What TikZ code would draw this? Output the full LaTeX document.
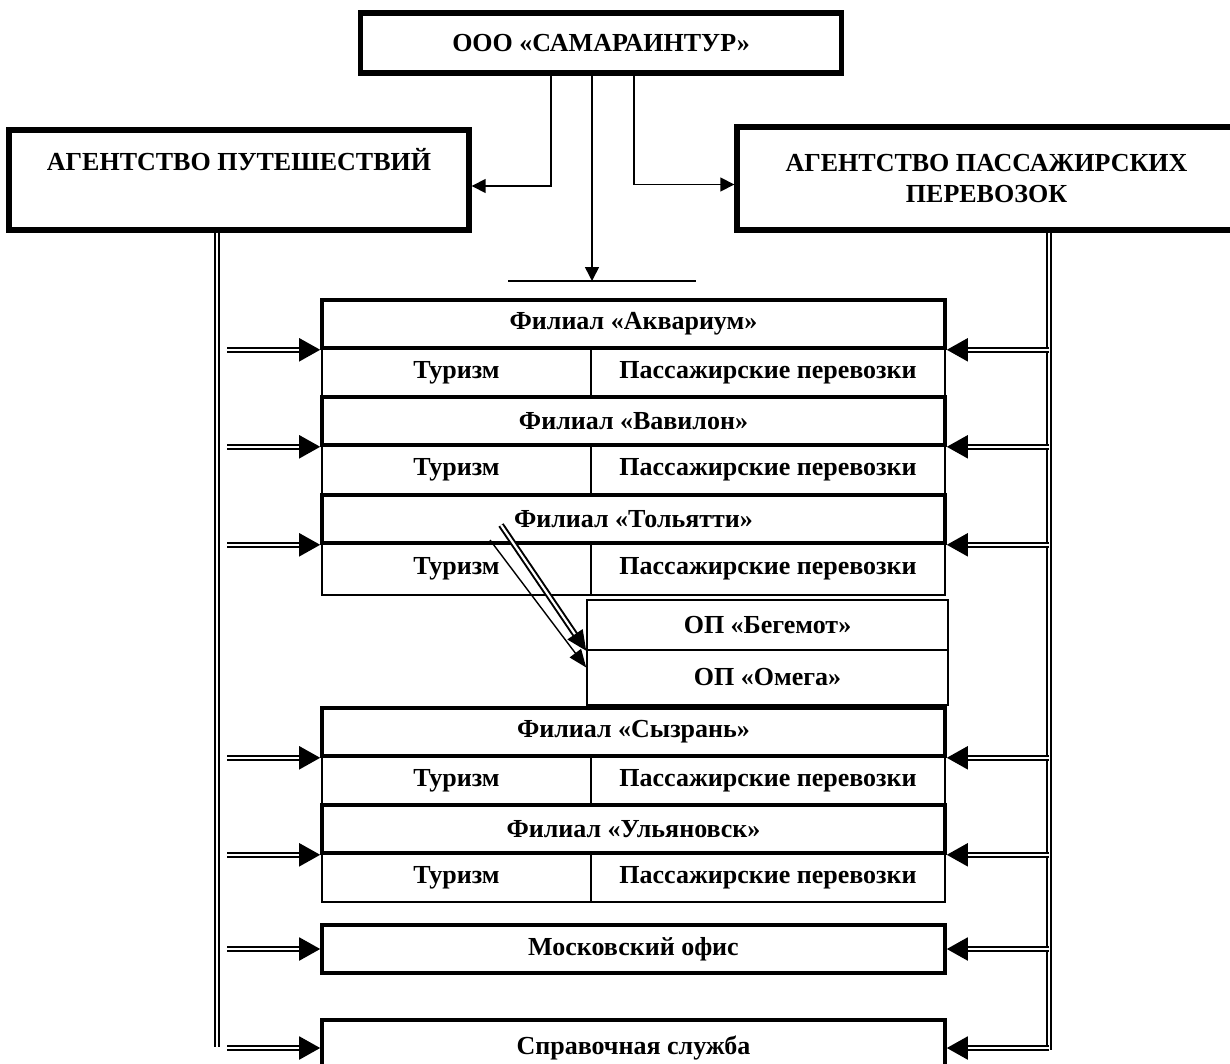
\documentclass[tikz,border=0pt]{standalone}
\usepackage{fontspec}
\setmainfont{Liberation Serif}
\usetikzlibrary{arrows.meta}

\tikzset{
  headbox/.style={draw, line width=2.7pt, inner sep=0pt, align=center},
  filbox/.style={draw, line width=1.8pt, minimum width=311.5pt, minimum height=24pt, inner sep=0pt},
  cellL/.style={draw, line width=0.8pt, minimum width=134.5pt, minimum height=24.5pt, inner sep=0pt},
  cellR/.style={draw, line width=0.8pt, minimum width=177pt, minimum height=24.5pt, inner sep=0pt},
  opbox/.style={draw, line width=0.8pt, minimum width=180.5pt, inner sep=0pt},
  link/.style={line width=0.8pt, -{Triangle[length=7pt,width=7pt]}},
  dbl/.style={double, line width=1pt, double distance=1.1pt},
  dblarrow/.style={dbl, -{Triangle[length=10.5pt,width=11.5pt]}},
}

\begin{document}
\begin{tikzpicture}[x=0.5pt, y=-0.5pt, every node/.style={font=\fontsize{13}{15.5}\selectfont\bfseries}]
  \useasboundingbox (0,0) rectangle (1230,1064);
  % Nodes
  \node[headbox, minimum width=240.5pt, minimum height=30pt] (top) at (601,43) {ООО «САМАРАИНТУР»};
  \node[headbox, minimum width=230pt, minimum height=50pt] (lag) at (239,180) {АГЕНТСТВО ПУТЕШЕСТВИЙ\\\strut};
  \node[headbox, minimum width=249.5pt, minimum height=51.5pt] (rag) at (986.5,178.5) {АГЕНТСТВО ПАССАЖИРСКИХ\\ПЕРЕВОЗОК};

  \node[filbox] (ak) at (633.5,324) {Филиал «Аквариум»};
  \node[cellL] (akt) at (456.5,372.5) {Туризм};
  \node[cellR] (akp) at (768,372.5) {Пассажирские перевозки};

  \node[filbox] (vav) at (633.5,421) {Филиал «Вавилон»};
  \node[cellL] (vavt) at (456.5,469.5) {Туризм};
  \node[cellR] (vavp) at (768,469.5) {Пассажирские перевозки};

  \node[filbox] (tol) at (633.5,519) {Филиал «Тольятти»};
  \node[cellL, minimum height=26pt] (tolt) at (456.5,569) {Туризм};
  \node[cellR, minimum height=26pt] (tolp) at (768,569) {Пассажирские перевозки};

  \node[opbox, minimum height=25pt] (beg) at (767.5,625) {ОП «Бегемот»};
  \node[opbox, minimum height=27.5pt] (om) at (767.5,677.5) {ОП «Омега»};

  \node[filbox] (syz) at (633.5,732) {Филиал «Сызрань»};
  \node[cellL] (syzt) at (456.5,780.5) {Туризм};
  \node[cellR] (syzp) at (768,780.5) {Пассажирские перевозки};

  \node[filbox] (ul) at (633.5,829) {Филиал «Ульяновск»};
  \node[cellL] (ult) at (456.5,877.5) {Туризм};
  \node[cellR] (ulp) at (768,877.5) {Пассажирские перевозки};

  \node[filbox] (mos) at (633.5,949) {Московский офис};
  \node[filbox, minimum height=28pt] (spr) at (633.5,1048) {Справочная служба};

  \coordinate (barl) at (508,281);
  \coordinate (barr) at (696,281);
  \coordinate (lbus) at (217,1047);
  \coordinate (lin) at (227,1047);
  \coordinate (rbus) at (1049,1050);
  \coordinate (dstart) at (501,525);
  \coordinate (sstart) at (490,540);

  % Edges
  \draw[link] (top.south -| 551,0) |- ([yshift=-3pt]lag.east);
  \draw[link] (top.south -| 634,0) |- ([yshift=-3pt]rag.west);
  \draw[link] (top.south -| 592,0) -- (barl -| 592,0);
  \draw[line width=1.2pt] (barl) -- (barr);

  \draw[dbl] (lag.south -| lbus) -- (lbus);
  \draw[dbl] (rag.south -| rbus) -- (rbus);
  \foreach \f in {ak,vav,tol,syz,ul} {
    \draw[dblarrow] (lin |- \f.south west) -- (\f.south west);
    \draw[dblarrow] (rbus |- \f.south east) -- (\f.south east);
  }
  \foreach \f in {mos,spr} {
    \draw[dblarrow] (lin |- \f.west) -- (\f.west);
    \draw[dblarrow] (rbus |- \f.east) -- (\f.east);
  }

  \draw[dbl, -{Triangle[length=10pt,width=9pt]}] (dstart) -- (beg.south west);
  \draw[line width=0.7pt, -{Triangle[length=9pt,width=7pt]}] (sstart) -- ([yshift=5pt]om.west);
\end{tikzpicture}
\end{document}
